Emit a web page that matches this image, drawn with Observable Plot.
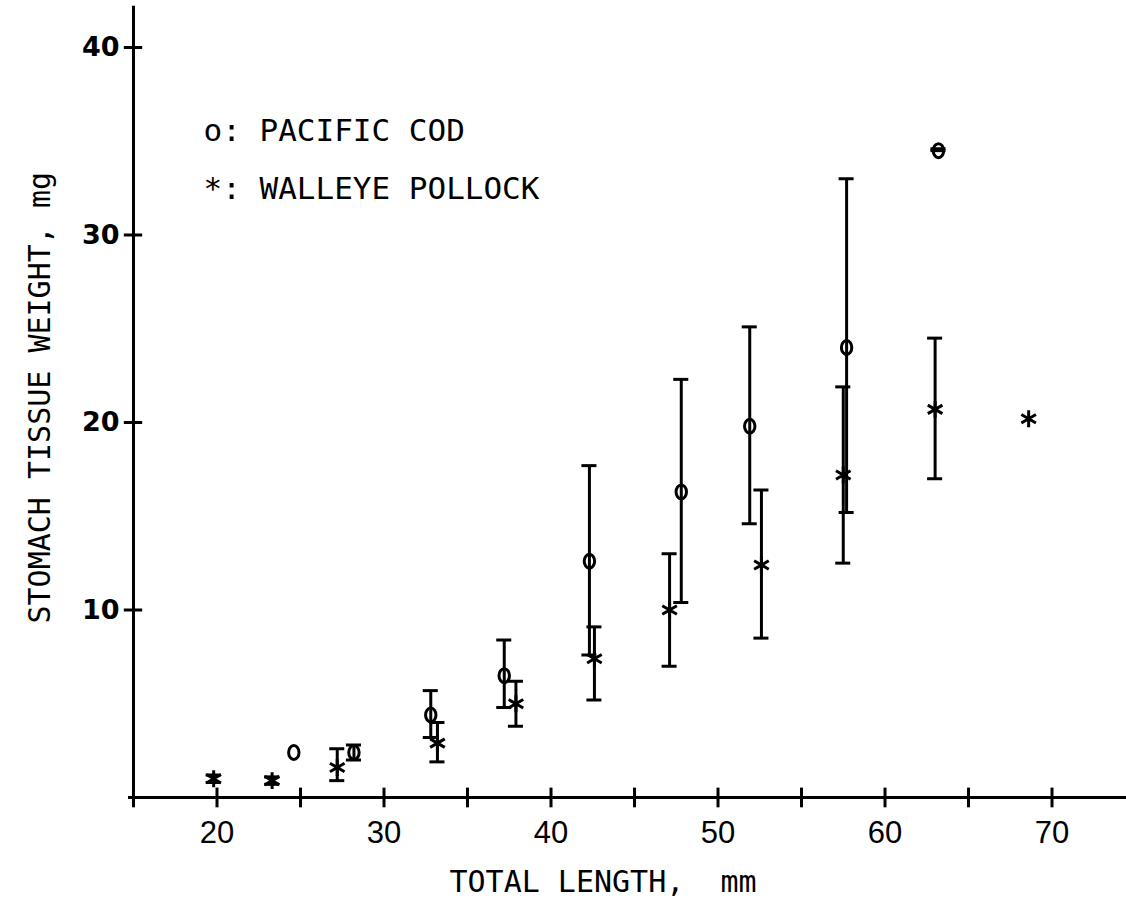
<!DOCTYPE html>
<html><head><meta charset="utf-8">
<script src="https://cdn.jsdelivr.net/npm/d3@7"></script>
<script src="https://cdn.jsdelivr.net/npm/@observablehq/plot@0.6"></script>
<style>body{margin:0;background:#fff}#chart svg{display:block}</style>
</head><body><div id="chart"></div>
<script>
// Pacific cod (o)
const codX  = [24.6, 28.2, 32.8, 37.2, 42.3, 47.8, 51.9, 57.7, 63.2];
const codY  = [2.4, 2.4, 4.4, 6.5, 12.6, 16.3, 19.8, 24.0, 34.5];
const codLo = [null, 2.0, 3.2, 4.8, 7.6, 10.4, 14.6, 15.2, 34.5];
const codHi = [null, 2.8, 5.7, 8.4, 17.7, 22.3, 25.1, 33.0, 34.6];
// Walleye pollock (*)
const polX  = [19.8, 23.3, 27.2, 33.2, 37.9, 42.6, 47.1, 52.6, 57.5, 63.0, 68.6];
const polY  = [1.0, 0.9, 1.6, 2.9, 5.0, 7.4, 10.0, 12.4, 17.2, 20.7, 20.2];
const polLo = [0.8, 0.7, 0.9, 1.9, 3.8, 5.2, 7.0, 8.5, 12.5, 17.0, null];
const polHi = [1.2, 1.1, 2.6, 4.0, 6.2, 9.1, 13.0, 16.4, 21.9, 24.5, null];

const xTicks = [15, 20, 25, 30, 35, 40, 45, 50, 55, 60, 65, 70];
const xLabels = [20, 30, 40, 50, 60, 70];
const yTicks = [10, 20, 30, 40];
const yLabels = [10, 20, 30, 40];
const legendLabels = ["o: PACIFIC COD", "*: WALLEYE POLLOCK"];
const xTitle = "TOTAL LENGTH,  mm";
const yTitle = "STOMACH TISSUE WEIGHT, mg";

const cod = codX.map((x, i) => ({x, y: codY[i], lo: codLo[i], hi: codHi[i]}));
const pol = polX.map((x, i) => ({x, y: polY[i], lo: polLo[i], hi: polHi[i]}));
const codBars = cod.filter(d => d.lo != null);
const polBars = pol.filter(d => d.lo != null);

const ellipse = {draw(ctx) {
  const rx = 5.2, ry = 7, k = 0.5523;
  ctx.moveTo(rx, 0);
  ctx.bezierCurveTo(rx, ry*k, rx*k, ry, 0, ry);
  ctx.bezierCurveTo(-rx*k, ry, -rx, ry*k, -rx, 0);
  ctx.bezierCurveTo(-rx, -ry*k, -rx*k, -ry, 0, -ry);
  ctx.bezierCurveTo(rx*k, -ry, rx, -ry*k, rx, 0);
  ctx.closePath();
}};

const CAP = 0.45;
const sw = 3;
const mono = "'DejaVu Sans Mono', monospace";

function bars(data) {
  return [
    Plot.ruleX(data, {x: "x", y1: "lo", y2: "hi", stroke: "black", strokeWidth: sw}),
    Plot.ruleY(data, {y: "hi", x1: d => d.x - CAP, x2: d => d.x + CAP, stroke: "black", strokeWidth: sw}),
    Plot.ruleY(data, {y: "lo", x1: d => d.x - CAP, x2: d => d.x + CAP, stroke: "black", strokeWidth: sw})
  ];
}

const chart = Plot.plot({
  width: 1126, height: 918,
  marginLeft: 133, marginRight: 0, marginTop: 9.5, marginBottom: 121,
  x: {domain: [15, 74.46], axis: null},
  y: {domain: [0, 42], axis: null},
  style: {background: "white", color: "black"},
  marks: [
    // axes
    Plot.ruleX([15], {y1: 0, y2: 42.2, stroke: "black", strokeWidth: 3}),
    Plot.ruleY([0], {x1: 14.7, x2: 74.46, stroke: "black", strokeWidth: 3}),
    Plot.ruleX(xTicks, {x: d => d, y1: -0.55, y2: 0.5, stroke: "black", strokeWidth: 3}),
    Plot.ruleY(yTicks, {y: d => d, x1: 14.45, x2: 15.55, stroke: "black", strokeWidth: 3}),
    Plot.text(xLabels, {x: d => d, y: 0, dy: 36, text: d => String(d), fontSize: 31, fontFamily: "'Liberation Sans', Arial, sans-serif", fill: "black"}),
    Plot.text(yLabels, {x: 15, y: d => d, dx: -14, text: d => String(d), textAnchor: "end", fontSize: 27, fontWeight: "bold", fontFamily: "'DejaVu Sans', sans-serif", fill: "black"}),
    Plot.text([xTitle], {frameAnchor: "bottom", dx: -27, dy: 85, text: d => d, fontSize: 30, fontFamily: mono, fill: "black", lineAnchor: "middle"}),
    Plot.text([yTitle], {frameAnchor: "left", dx: -93, dy: -6, rotate: -90, text: d => d, fontSize: 30, fontFamily: mono, fill: "black", textAnchor: "middle"}),
    // legend
    Plot.text([legendLabels[0]], {frameAnchor: "top-left", dx: 70, dy: 121, text: d => d, fontSize: 31, fontFamily: mono, fill: "black", lineAnchor: "middle"}),
    Plot.text([legendLabels[1]], {frameAnchor: "top-left", dx: 70, dy: 179, text: d => d, fontSize: 31, fontFamily: mono, fill: "black", lineAnchor: "middle"}),
    // error bars
    ...bars(codBars),
    ...bars(polBars),
    // markers
    Plot.dot(cod, {x: "x", y: "y", symbol: ellipse, r: 6, stroke: "black", strokeWidth: 3, fill: "none"}),
    Plot.dot(pol, {x: "x", y: "y", symbol: "asterisk", r: 8, stroke: "black", strokeWidth: 3})
  ]
});
document.getElementById("chart").append(chart);
</script>
</body></html>
